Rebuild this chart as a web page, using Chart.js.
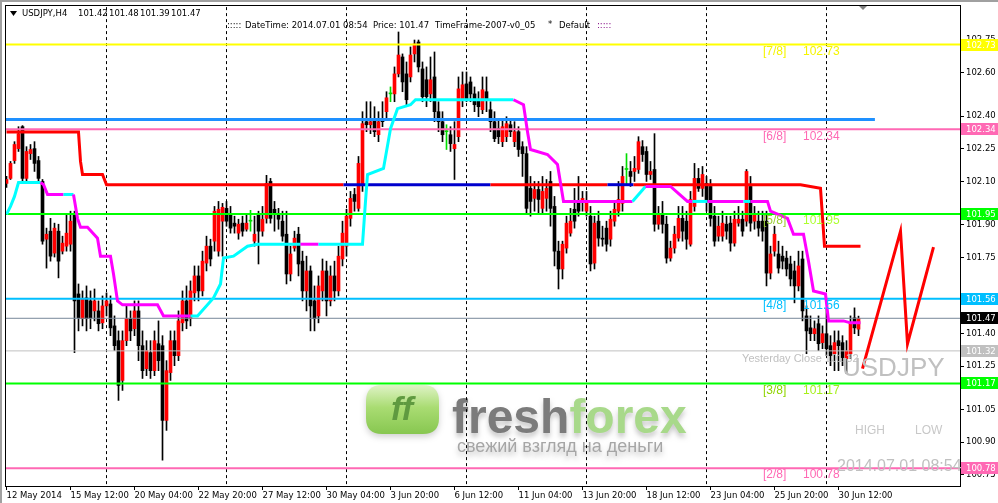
<!DOCTYPE html>
<html><head><meta charset="utf-8">
<script src="https://cdn.jsdelivr.net/npm/chart.js@4.4.1/dist/chart.umd.min.js"></script>
<style>html,body{margin:0;padding:0;background:#fff;overflow:hidden}canvas{display:block}</style>
</head><body>
<canvas id="c" width="998" height="503"></canvas>
<script>
// ---------------- DATA ----------------
const symbol = 'USDJPY';
const timeframe = 'H4';
const timeLabels = ['12 May 2014','15 May 12:00','20 May 04:00','22 May 20:00','27 May 12:00','30 May 04:00','3 Jun 20:00','6 Jun 12:00','11 Jun 04:00','13 Jun 20:00','18 Jun 12:00','23 Jun 04:00','25 Jun 20:00','30 Jun 12:00'];
const timeLabelBars = [0,16,32,48,64,80,96,112,128,144,160,176,192,208];
const weekStartBars = [25,55,85,115,145,175,205];
const priceTicks = [102.75,102.60,102.40,102.25,102.10,101.90,101.75,101.40,101.25,101.05,100.90,100.75];

const opens = [
102.091,102.114,102.196,102.251,102.352,102.114,102.228,102.251,102.196,102.100,
101.834,101.871,101.770,101.871,101.779,101.802,101.811,101.949,101.582,101.468,
101.564,101.550,101.504,101.504,101.449,101.527,101.536,101.435,101.367,101.184,
101.367,101.468,101.422,101.504,101.344,101.238,101.312,101.229,101.353,101.344,
101.000,101.220,101.367,101.298,101.449,101.550,101.468,101.587,101.665,101.596,
101.724,101.802,101.825,101.779,101.917,101.976,101.949,101.908,101.862,101.908,
101.880,101.917,101.825,101.953,101.871,101.930,102.100,101.972,101.949,101.917,
101.857,101.674,101.793,101.857,101.733,101.596,101.688,101.550,101.481,101.596,
101.688,101.550,101.665,101.596,101.743,101.802,101.930,102.040,101.976,102.086,
102.375,102.361,102.384,102.315,102.384,102.421,102.503,102.503,102.595,102.673,
102.595,102.581,102.687,102.742,102.618,102.568,102.503,102.581,102.421,102.375,
102.329,102.315,102.251,102.306,102.480,102.549,102.558,102.503,102.476,102.430,
102.513,102.430,102.375,102.343,102.283,102.306,102.361,102.283,102.329,102.260,
102.228,102.068,102.022,102.063,101.976,102.022,102.100,101.985,101.779,101.697,
101.793,101.862,101.972,102.008,102.008,101.963,101.940,101.724,101.917,101.839,
101.885,101.834,101.917,101.963,101.999,102.155,102.146,102.146,102.155,102.260,
102.238,102.132,102.155,101.903,101.949,101.903,101.747,101.793,101.839,101.930,
101.917,101.811,101.985,102.114,102.068,102.091,102.077,101.940,101.848,101.848,
101.903,101.908,101.816,101.908,101.926,101.917,102.077,101.917,101.917,101.917,
101.917,101.678,101.779,101.766,101.756,101.747,101.720,101.688,101.619,101.743,
101.481,101.426,101.399,101.445,101.358,101.399,101.344,101.307,101.367,101.358,
101.284,101.307,101.472,101.420];
const highs = [
102.123,102.192,102.283,102.352,102.357,102.260,102.270,102.283,102.215,102.109,
101.885,101.930,101.908,101.903,101.848,101.949,101.963,101.963,101.628,101.596,
101.619,101.596,101.605,101.550,101.573,101.587,101.573,101.481,101.412,101.412,
101.527,101.504,101.550,101.550,101.412,101.367,101.367,101.412,101.458,101.390,
101.275,101.412,101.412,101.504,101.596,101.619,101.642,101.711,101.711,101.779,
101.848,101.834,101.985,102.008,101.999,102.008,101.985,101.940,101.926,101.940,
101.953,101.967,101.940,101.963,101.985,102.128,102.114,102.008,101.976,101.963,
101.963,101.802,101.871,101.889,101.779,101.756,101.711,101.619,101.665,101.743,
101.733,101.711,101.733,101.802,101.917,101.972,102.054,102.068,102.215,102.421,
102.467,102.467,102.444,102.421,102.467,102.513,102.535,102.627,102.788,102.687,
102.650,102.719,102.751,102.751,102.650,102.627,102.673,102.696,102.467,102.421,
102.361,102.352,102.375,102.581,102.604,102.604,102.581,102.535,102.513,102.581,
102.581,102.467,102.421,102.384,102.384,102.398,102.384,102.375,102.352,102.283,
102.260,102.123,102.100,102.100,102.123,102.109,102.146,102.031,101.825,101.825,
101.940,101.976,102.068,102.123,102.054,102.054,101.985,101.940,101.963,101.894,
101.917,101.963,102.008,102.100,102.169,102.228,102.192,102.215,102.306,102.288,
102.260,102.192,102.320,101.985,102.008,101.940,101.825,101.894,101.985,101.985,
101.963,102.054,102.183,102.160,102.169,102.123,102.109,101.985,101.940,101.963,
101.940,101.940,101.963,101.985,101.963,102.155,102.123,101.985,101.963,101.963,
101.963,101.802,101.894,101.825,101.802,101.779,101.756,101.733,101.779,101.779,
101.527,101.481,101.458,101.481,101.435,101.518,101.390,101.412,101.412,101.390,
101.367,101.481,101.518,101.480];
const lows = [
102.072,102.109,102.183,102.238,102.100,102.100,102.201,102.146,102.100,101.811,
101.701,101.733,101.752,101.656,101.766,101.779,101.779,101.312,101.412,101.435,
101.412,101.422,101.458,101.412,101.422,101.481,101.390,101.321,101.092,101.138,
101.344,101.367,101.390,101.275,101.193,101.206,101.193,101.206,101.229,100.817,
100.954,101.184,101.252,101.275,101.412,101.422,101.435,101.550,101.550,101.573,
101.688,101.711,101.779,101.756,101.756,101.894,101.862,101.862,101.834,101.848,
101.871,101.871,101.802,101.720,101.848,101.908,101.908,101.871,101.880,101.825,
101.628,101.642,101.779,101.665,101.550,101.504,101.412,101.412,101.449,101.550,
101.481,101.527,101.550,101.573,101.711,101.756,101.894,101.963,101.963,102.054,
102.329,102.320,102.306,102.283,102.352,102.384,102.467,102.467,102.581,102.513,
102.444,102.558,102.650,102.604,102.467,102.444,102.467,102.375,102.329,102.283,
102.247,102.238,102.109,102.283,102.444,102.467,102.467,102.421,102.398,102.412,
102.421,102.329,102.283,102.274,102.260,102.283,102.306,102.260,102.215,102.123,
101.953,101.940,101.963,101.953,101.953,101.963,101.894,101.711,101.605,101.651,
101.770,101.848,101.885,101.940,101.963,101.940,101.688,101.697,101.802,101.802,
101.779,101.802,101.894,101.940,101.963,102.086,102.077,102.100,102.137,102.192,
102.100,102.109,101.871,101.880,101.862,101.724,101.733,101.770,101.825,101.825,
101.788,101.802,101.963,102.054,102.031,101.963,101.894,101.802,101.825,101.825,
101.834,101.779,101.802,101.894,101.848,101.894,101.871,101.880,101.848,101.825,
101.619,101.651,101.756,101.678,101.697,101.665,101.619,101.541,101.596,101.458,
101.307,101.367,101.367,101.321,101.330,101.298,101.252,101.229,101.229,101.252,
101.215,101.284,101.399,101.390];
const closes = [
102.109,102.183,102.270,102.320,102.114,102.238,102.247,102.183,102.114,101.825,
101.857,101.756,101.885,101.733,101.816,101.862,101.917,101.550,101.472,101.559,
101.468,101.472,101.550,101.445,101.527,101.550,101.426,101.344,101.161,101.367,
101.468,101.412,101.504,101.344,101.229,101.321,101.229,101.367,101.275,101.000,
101.229,101.367,101.298,101.458,101.550,101.458,101.596,101.665,101.596,101.733,
101.802,101.743,101.963,101.972,101.981,101.917,101.885,101.894,101.903,101.871,
101.908,101.917,101.857,101.871,101.926,102.091,101.930,101.953,101.926,101.848,
101.674,101.766,101.839,101.720,101.596,101.688,101.527,101.468,101.619,101.688,
101.550,101.665,101.596,101.756,101.862,101.940,102.022,102.008,102.183,102.366,
102.361,102.375,102.329,102.375,102.375,102.485,102.503,102.595,102.682,102.558,
102.476,102.682,102.733,102.627,102.490,102.490,102.568,102.421,102.375,102.315,
102.329,102.274,102.270,102.526,102.545,102.480,102.503,102.453,102.444,102.522,
102.476,102.375,102.297,102.306,102.352,102.366,102.329,102.329,102.247,102.228,
101.976,102.008,102.063,102.017,102.054,102.068,101.976,101.779,101.697,101.811,
101.908,101.917,101.917,101.963,102.022,102.008,101.720,101.908,101.839,101.834,
101.811,101.926,101.972,102.017,102.123,102.155,102.123,102.160,102.283,102.224,
102.132,102.146,101.903,101.949,101.903,101.747,101.793,101.857,101.930,101.871,
101.834,102.017,102.114,102.068,102.132,102.008,101.930,101.825,101.894,101.908,
101.871,101.816,101.926,101.926,101.871,102.146,101.908,101.953,101.885,101.871,
101.678,101.766,101.857,101.701,101.733,101.697,101.651,101.619,101.711,101.504,
101.412,101.399,101.422,101.353,101.399,101.330,101.298,101.358,101.344,101.289,
101.320,101.449,101.426,101.470];

const mmLevels = [102.73,102.34,101.95,101.56,101.17,100.78];
const mmNames  = ['[7/8]','[6/8]','[5/8]','[4/8]','[3/8]','[2/8]'];
const resistanceLevel = 102.385;
const resistanceEndBar = 217.1;
const currentPrice = 101.47;
const yesterdayClose = 101.32;
const dateTimeText = '2014.07.01 08:54';

// trend (cyan = up, magenta = down) line vertices: bar index, price, state
const trendBars = [0,1,2,3,8.5,9.25,10.25,14.25,16.75,17.75,18.5,20.25,22.75,23.5,26,26.75,27.75,29,37.75,39.25,46,47.75,51.75,53.5,54.25,56.75,60.25,62.75,73.5,78,89,89.75,90.25,94.25,96,97.75,101,102.25,126.75,129.25,130.25,131,135.25,137.75,139.25,156.5,159.75,166,170.25,171.5,175.25,184.25,186,190.25,191,195.25,196.75,199.25,200.5,201.75,204.75,205.5,209.25,211,213.5];
const trendVals = [101.949,101.985,102.031,102.095,102.095,102.086,102.040,102.040,102.040,101.930,101.889,101.889,101.839,101.756,101.756,101.674,101.550,101.532,101.532,101.481,101.481,101.481,101.564,101.628,101.747,101.756,101.802,101.811,101.811,101.811,101.811,102.008,102.132,102.160,102.343,102.435,102.453,102.476,102.476,102.453,102.329,102.247,102.224,102.178,102.008,102.008,102.077,102.077,102.008,102.008,102.008,102.008,102.008,102.008,101.963,101.930,101.857,101.857,101.733,101.596,101.582,101.458,101.458,101.449,101.449];
const trendState = ['c','c','c','c','m','m','m','c','m','m','m','m','m','m','m','m','m','m','m','m','c','c','c','c','c','c','c','c','m','c','c','c','c','c','c','c','c','c','m','m','m','m','m','m','m','c','m','m','m','c','m','c','m','m','m','m','m','m','m','m','m','m','m','m','m'];

// stop line (red = short side, blue = long side)
const stopBars = [0,18,18.5,19,24,25,84.25,121,150.25,156.75,198.5,203.5,204.5,213.5];
const stopVals = [102.327,102.327,102.192,102.132,102.132,102.085,102.085,102.085,102.085,102.085,102.085,102.068,101.802,101.802];
const stopState = ['r','r','r','r','r','r','b','r','b','r','r','r','r','r'];

// HIGH / LOW forecast zigzag
const forecastBars = [214,223.5,225.25,231.75];
const forecastVals = [101.238,101.871,101.353,101.798];

// ---------------- CHART ----------------
const xMin = -0.125, xMax = 238.375, yMin = 100.698, yMax = 102.9025;
const FONT = '"DejaVu Sans", sans-serif';
Chart.defaults.font.family = FONT;
Chart.defaults.font.size = 8.5;
Chart.defaults.color = '#000';

const bars = closes.map((c,i)=>i);
const isDoji = i => closes[i] === opens[i];
const bodyColor = i => closes[i] > opens[i] ? '#ff0000' : (closes[i] < opens[i] ? '#000000' : '#00dd00');
const wickColor = i => isDoji(i) ? '#00dd00' : '#000000';

const mmLineColors = ['#ffff00','#ff69b4','#00ff00','#00bfff','#00ff00','#ff69b4'];
const mmNameColors = ['#f5f500','#ff69b4','#9acd32','#00bfff','#8fd400','#ff69b4'];
const mmValColors  = ['#f5f500','#ff69b4','#adff2f','#00bfff','#a6f01a','#ff69b4'];

function hLine(v, color, w, order, x0, x1){
  return {type:'line', data:[{x:x0,y:v},{x:x1,y:v}], borderColor:color, borderWidth:w, pointRadius:0, order:order, borderCapStyle:'butt'};
}

const datasets = [
  {type:'bar', label:'wicks', data: bars.map(i=>({x:i, y:[lows[i], highs[i]]})), backgroundColor: bars.map(wickColor), barThickness:1, grouped:false, order:9, minBarLength:1},
  {type:'bar', label:'bodies', data: bars.map(i=>({x:i, y:[Math.min(opens[i],closes[i]), Math.max(opens[i],closes[i])]})), backgroundColor: bars.map(bodyColor), barThickness:3, grouped:false, order:8, minBarLength:1},
  hLine(yesterdayClose, '#c0c0c0', 1, 6, xMin, xMax),
  hLine(currentPrice, '#778899', 1, 6, xMin, xMax),
  ...mmLevels.map((v,k)=>hLine(v, mmLineColors[k], 2, 5, xMin, xMax)),
  hLine(resistanceLevel, '#1e90ff', 3, 4, xMin, resistanceEndBar),
  {type:'line', label:'stop', data: stopBars.map((b,k)=>({x:b, y:stopVals[k]})), borderWidth:3, pointRadius:0, order:3, borderColor:'#ff0000',
    segment:{borderColor: c => stopState[c.p0DataIndex]==='b' ? '#0000cd' : '#ff0000'}},
  {type:'line', label:'trend', data: trendBars.map((b,k)=>({x:b, y:trendVals[k]})), borderWidth:3, pointRadius:0, order:2, borderColor:'#ff00ff',
    segment:{borderColor: c => trendState[c.p0DataIndex]==='c' ? '#00ffff' : '#ff00ff'}},
  {type:'line', label:'forecast', data: forecastBars.map((b,k)=>({x:b, y:forecastVals[k]})), borderWidth:3, pointRadius:0, order:1, borderColor:'#ff0000'}
];

function roundRect(ctx,x,y,w,h,r){
  ctx.beginPath(); ctx.moveTo(x+r,y); ctx.lineTo(x+w-r,y); ctx.quadraticCurveTo(x+w,y,x+w,y+r);
  ctx.lineTo(x+w,y+h-r); ctx.quadraticCurveTo(x+w,y+h,x+w-r,y+h); ctx.lineTo(x+r,y+h);
  ctx.quadraticCurveTo(x,y+h,x,y+h-r); ctx.lineTo(x,y+r); ctx.quadraticCurveTo(x,y,x+r,y); ctx.closePath();
}

function drawLogo(ctx){
  ctx.save();
  ctx.shadowColor='rgba(0,0,0,0.18)'; ctx.shadowBlur=6; ctx.shadowOffsetY=3;
  const g = ctx.createLinearGradient(0,385,0,435);
  g.addColorStop(0,'#dff3c6'); g.addColorStop(0.45,'#a9dc72'); g.addColorStop(1,'#86c64f');
  roundRect(ctx,366,385,73,49,16); ctx.fillStyle=g; ctx.fill();
  ctx.shadowColor='transparent';
  ctx.font='italic bold 34px "Liberation Sans"'; ctx.fillStyle='#5f9a40'; ctx.textAlign='center'; ctx.textBaseline='middle';
  ctx.fillText('ff',402,411);
  ctx.shadowColor='rgba(0,0,0,0.22)'; ctx.shadowBlur=5; ctx.shadowOffsetY=4;
  ctx.textAlign='left'; ctx.textBaseline='alphabetic';
  ctx.font='bold 48px "Liberation Sans"';
  ctx.fillStyle='#7b7b7b'; ctx.fillText('fresh',452,433);
  const w = ctx.measureText('fresh').width;
  ctx.fillStyle='#a8d98a'; ctx.fillText('forex',452+w,433);
  ctx.font='18px "Liberation Sans"'; ctx.fillStyle='#a6a6a6';
  ctx.fillText('свежий взгляд на деньги',457,452);
  ctx.restore();
}

const decor = {
  id:'decor',
  beforeDatasetsDraw(chart){
    const {ctx, chartArea:a, scales:{x}} = chart;
    drawLogo(ctx);
    ctx.save();
    ctx.strokeStyle='#000'; ctx.lineWidth=1; ctx.setLineDash([3,3]);
    weekStartBars.forEach(b=>{
      const px = x.getPixelForValue(b);
      ctx.beginPath(); ctx.moveTo(px,a.top); ctx.lineTo(px,a.bottom); ctx.stroke();
    });
    ctx.restore();
  },
  afterDraw(chart){
    const {ctx, chartArea:a, scales:{x,y}} = chart;
    ctx.save();
    // window frame
    ctx.fillStyle='#a0a0a0'; ctx.fillRect(0,0,998,2); ctx.fillRect(0,0,2,503);
    ctx.strokeStyle='#000'; ctx.lineWidth=1;
    ctx.strokeRect(5.5,5.5,a.right-5,a.bottom-5);
    // header line 1
    ctx.fillStyle='#000';
    ctx.beginPath(); ctx.moveTo(10,11); ctx.lineTo(17,11); ctx.lineTo(13.5,16); ctx.closePath(); ctx.fill();
    ctx.font='8.5px '+FONT; ctx.textBaseline='middle'; ctx.textAlign='left';
    const L = closes.length-1;
    ctx.fillText(symbol+','+timeframe,22,14);
    [opens[L],highs[L],lows[L],closes[L]].forEach((v,k)=>ctx.fillText(v.toFixed(2),78+k*31,14));
    // header line 2
    ctx.fillText(':::::',227,26);
    ctx.fillText('DateTime: '+dateTimeText,245,26);
    ctx.fillText('Price: '+currentPrice.toFixed(2),373,26);
    ctx.fillText('TimeFrame-2007-v0_05',435,26);
    ctx.fillText('*',548,25);
    ctx.fillText('Default',559,26);
    ctx.fillStyle='#800080'; ctx.fillText(':::::',597,26);
    // shift marker
    ctx.fillStyle='#808080'; ctx.beginPath(); ctx.moveTo(859,6); ctx.lineTo(867,6); ctx.lineTo(863,10); ctx.closePath(); ctx.fill();
    // murrey labels
    ctx.font='12px "Liberation Sans"';
    mmLevels.forEach((v,k)=>{
      const py = y.getPixelForValue(v)+7;
      ctx.fillStyle=mmNameColors[k]; ctx.fillText(mmNames[k],763,py);
      ctx.fillStyle=mmValColors[k]; ctx.fillText(v.toFixed(2),803,py);
    });
    // yesterday close
    ctx.font='11px "Liberation Sans"'; ctx.fillStyle='#c0c0c0'; ctx.textAlign='right';
    ctx.fillText('Yesterday Close '+yesterdayClose.toFixed(2), x.getPixelForValue(L), y.getPixelForValue(yesterdayClose)+8);
    ctx.textAlign='left';
    // symbol
    ctx.font='26px "Liberation Sans"'; ctx.fillStyle='#c0c0c0';
    ctx.fillText(symbol,842,369);
    ctx.font='12px "Liberation Sans"'; ctx.fillStyle='#c8c8c8';
    ctx.fillText('HIGH',855,431); ctx.fillText('LOW',915,431);
    ctx.font='16px "Liberation Sans"'; ctx.fillStyle='#c0c0c0';
    ctx.fillText(dateTimeText,837,467);
    // axis price boxes
    const boxes = mmLevels.map((v,k)=>({v, c:mmLineColors[k]}));
    boxes.push({v:currentPrice, c:'#000000'}, {v:yesterdayClose, c:'#c0c0c0'});
    ctx.font='8.5px '+FONT;
    boxes.forEach(b=>{
      const py = Math.round(y.getPixelForValue(b.v));
      ctx.fillStyle=b.c; ctx.fillRect(961,py-6,37,12);
      ctx.fillStyle='#ffffff'; ctx.fillText(b.v.toFixed(2),966,py+0.5);
    });
    ctx.restore();
  }
};

new Chart(document.getElementById('c'), {
  type:'bar',
  data:{datasets},
  options:{
    responsive:false, animation:false, devicePixelRatio:1, events:[],
    layout:{padding:{left:6, top:5, right:0, bottom:0}},
    plugins:{legend:{display:false}, tooltip:{enabled:false}},
    scales:{
      x:{type:'linear', position:'bottom', min:xMin, max:xMax, offset:false,
         grid:{display:true, drawOnChartArea:false, drawTicks:true, tickLength:4, color:'#000', offset:false},
         border:{display:false},
         afterBuildTicks: s => { s.ticks = timeLabelBars.map(v=>({value:v})); },
         ticks:{autoSkip:false, maxRotation:0, minRotation:0, align:'start', padding:1, color:'#000',
                callback:(v,i)=>timeLabels[i]},
         afterFit: s => { s.height = 17; }
      },
      y:{type:'linear', position:'right', min:yMin, max:yMax,
         grid:{display:true, drawOnChartArea:false, drawTicks:true, tickLength:4, color:'#000'},
         border:{display:false},
         afterBuildTicks: s => { s.ticks = priceTicks.map(v=>({value:v})); },
         ticks:{autoSkip:false, padding:2, color:'#000', callback:v=>v.toFixed(2)},
         afterFit: s => { s.width = 38; }
      }
    }
  },
  plugins:[decor]
});
</script>
</body></html>
